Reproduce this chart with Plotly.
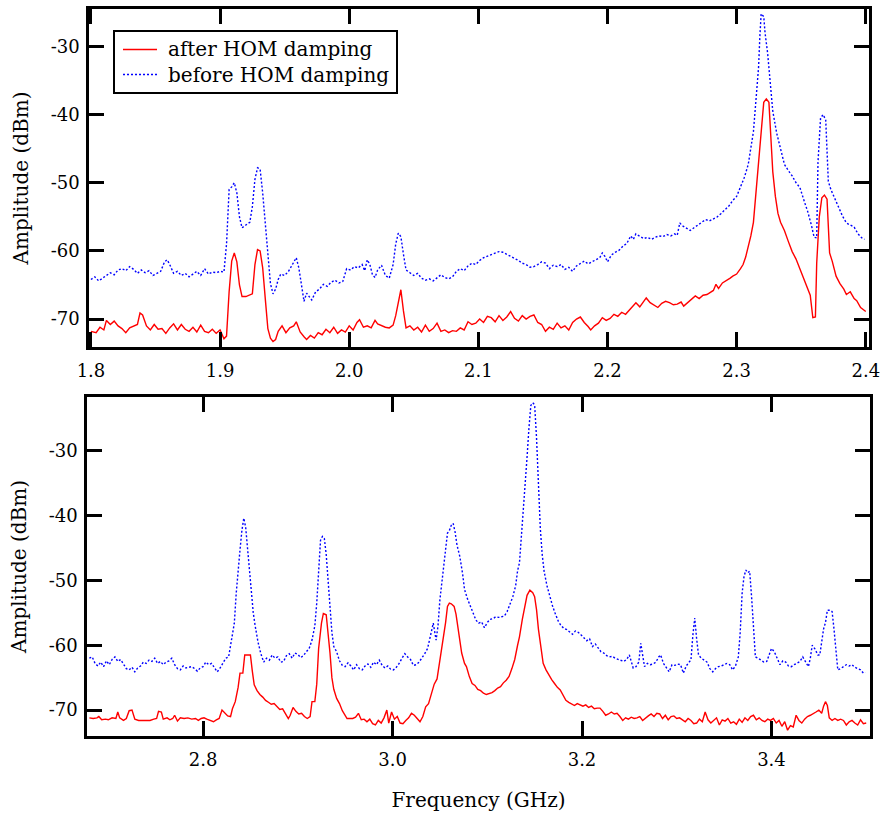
import plotly.graph_objects as go

# Measured transmission spectra (frequency in GHz, amplitude in dBm)
# Upper band, after HOM damping
top_after = [
    (1.800, -71.8), (1.804, -72.0), (1.807, -71.2), (1.810, -71.6), (1.812, -70.2),
    (1.815, -70.8), (1.818, -70.3), (1.821, -71.0), (1.824, -71.4), (1.827, -72.0),
    (1.830, -71.3), (1.833, -71.0), (1.836, -70.8), (1.838, -69.1), (1.840, -69.4),
    (1.843, -71.0), (1.846, -71.6), (1.849, -70.8), (1.852, -71.5), (1.855, -71.4),
    (1.858, -72.1), (1.861, -71.3), (1.864, -70.7), (1.867, -71.6), (1.870, -70.8),
    (1.873, -71.5), (1.876, -71.8), (1.879, -71.2), (1.882, -71.9), (1.885, -70.9),
    (1.888, -71.8), (1.891, -72.0), (1.894, -71.5), (1.897, -72.1), (1.900, -71.6),
    (1.903, -72.9), (1.905, -72.5), (1.907, -66.0), (1.909, -61.5), (1.911, -60.3),
    (1.913, -61.6), (1.915, -65.0), (1.917, -66.7), (1.920, -66.7), (1.923, -66.5),
    (1.925, -66.3), (1.927, -62.0), (1.929, -59.8), (1.931, -60.0), (1.933, -62.5),
    (1.935, -67.0), (1.937, -71.4), (1.939, -72.8), (1.941, -73.3), (1.943, -73.0),
    (1.945, -71.8), (1.948, -71.0), (1.951, -72.0), (1.954, -71.3), (1.957, -71.0),
    (1.959, -70.4), (1.962, -71.9), (1.965, -72.6), (1.967, -73.0), (1.970, -72.4),
    (1.973, -72.8), (1.976, -72.0), (1.979, -72.3), (1.982, -71.5), (1.985, -72.0),
    (1.988, -71.2), (1.991, -72.1), (1.994, -71.6), (1.997, -71.9), (2.000, -71.0),
    (2.003, -71.6), (2.006, -70.5), (2.008, -70.1), (2.011, -71.2), (2.014, -71.0),
    (2.017, -71.3), (2.020, -70.2), (2.022, -70.7), (2.025, -71.0), (2.028, -71.2),
    (2.031, -71.3), (2.034, -70.9), (2.036, -69.5), (2.038, -67.5), (2.040, -65.7),
    (2.042, -68.8), (2.044, -71.3), (2.047, -71.0), (2.050, -71.6), (2.053, -71.2),
    (2.056, -71.9), (2.059, -70.9), (2.062, -71.8), (2.065, -71.4), (2.068, -70.6),
    (2.071, -71.8), (2.074, -71.6), (2.077, -72.0), (2.080, -71.7), (2.083, -71.8),
    (2.086, -71.3), (2.089, -71.6), (2.092, -70.4), (2.095, -70.8), (2.098, -70.6),
    (2.101, -70.0), (2.104, -70.5), (2.107, -69.6), (2.110, -69.8), (2.113, -70.4),
    (2.116, -69.5), (2.119, -70.2), (2.122, -69.7), (2.125, -68.9), (2.128, -69.9),
    (2.131, -70.3), (2.134, -69.5), (2.137, -70.0), (2.140, -69.6), (2.143, -69.4),
    (2.146, -70.5), (2.149, -70.8), (2.152, -71.8), (2.155, -71.2), (2.158, -71.5),
    (2.161, -70.6), (2.164, -71.3), (2.167, -71.0), (2.170, -71.6), (2.173, -70.5),
    (2.176, -70.0), (2.179, -69.7), (2.182, -70.5), (2.185, -71.1), (2.187, -71.6),
    (2.190, -71.0), (2.193, -70.6), (2.196, -69.8), (2.199, -70.2), (2.202, -69.9),
    (2.205, -69.3), (2.208, -69.6), (2.211, -69.0), (2.214, -69.3), (2.217, -68.6),
    (2.220, -68.0), (2.222, -67.6), (2.225, -68.2), (2.228, -67.3), (2.230, -66.9),
    (2.233, -67.6), (2.236, -68.0), (2.239, -68.3), (2.242, -67.7), (2.245, -67.4),
    (2.248, -67.6), (2.251, -67.9), (2.254, -67.8), (2.257, -67.5), (2.259, -68.1),
    (2.262, -67.6), (2.265, -67.0), (2.268, -66.6), (2.271, -67.0), (2.274, -66.5),
    (2.277, -66.4), (2.280, -66.1), (2.282, -65.8), (2.284, -64.9), (2.286, -65.5),
    (2.289, -64.7), (2.292, -64.4), (2.295, -64.0), (2.297, -63.7), (2.300, -63.4),
    (2.303, -62.6), (2.305, -62.0), (2.307, -60.9), (2.309, -59.5), (2.311, -57.8),
    (2.313, -55.8), (2.315, -51.5), (2.317, -47.0), (2.319, -42.0), (2.321, -38.2),
    (2.323, -37.7), (2.325, -38.2), (2.327, -45.0), (2.328, -48.4), (2.330, -52.0),
    (2.332, -54.5), (2.334, -55.8), (2.337, -57.0), (2.340, -58.6), (2.343, -60.1),
    (2.346, -61.2), (2.349, -62.7), (2.352, -64.0), (2.355, -65.5), (2.357, -66.5),
    (2.359, -69.8), (2.361, -69.7), (2.362, -61.8), (2.364, -55.0), (2.366, -52.2),
    (2.368, -51.8), (2.370, -52.4), (2.371, -56.0), (2.372, -60.3), (2.374, -61.5),
    (2.377, -63.7), (2.380, -64.8), (2.383, -65.6), (2.385, -66.4), (2.388, -66.0),
    (2.391, -67.0), (2.393, -67.3), (2.396, -68.3), (2.399, -68.8), (2.400, -68.9),
]

# Upper band, before HOM damping
top_before = [
    (1.800, -64.2), (1.803, -63.8), (1.806, -64.4), (1.809, -64.0), (1.812, -63.6),
    (1.815, -63.2), (1.818, -63.5), (1.821, -62.8), (1.824, -62.6), (1.827, -62.9),
    (1.830, -62.3), (1.833, -62.7), (1.836, -63.3), (1.839, -62.8), (1.842, -63.2),
    (1.845, -62.9), (1.848, -63.6), (1.851, -63.3), (1.854, -63.0), (1.857, -61.6),
    (1.859, -61.3), (1.861, -62.0), (1.864, -63.3), (1.867, -63.0), (1.870, -63.6),
    (1.873, -63.3), (1.876, -63.8), (1.879, -63.4), (1.882, -63.0), (1.885, -63.6),
    (1.888, -62.6), (1.891, -63.4), (1.894, -63.1), (1.897, -63.2), (1.900, -63.0),
    (1.903, -63.1), (1.905, -59.0), (1.907, -51.0), (1.909, -50.6), (1.911, -50.0),
    (1.913, -51.5), (1.915, -55.0), (1.917, -56.6), (1.920, -56.2), (1.923, -55.8),
    (1.925, -53.5), (1.927, -49.5), (1.929, -47.8), (1.931, -48.0), (1.933, -51.5),
    (1.935, -55.8), (1.937, -60.5), (1.939, -64.8), (1.941, -66.3), (1.943, -65.6),
    (1.945, -64.2), (1.947, -63.4), (1.950, -63.6), (1.953, -63.0), (1.956, -62.0),
    (1.959, -61.0), (1.961, -62.5), (1.963, -65.0), (1.965, -67.4), (1.967, -66.2),
    (1.969, -66.8), (1.971, -67.2), (1.974, -66.0), (1.977, -65.6), (1.980, -64.9),
    (1.983, -65.2), (1.986, -64.6), (1.989, -64.3), (1.992, -64.7), (1.995, -64.5),
    (1.998, -62.6), (2.001, -62.8), (2.004, -62.3), (2.007, -62.5), (2.010, -62.0),
    (2.012, -62.9), (2.014, -61.3), (2.016, -62.0), (2.018, -63.5), (2.020, -63.9),
    (2.022, -62.8), (2.025, -62.1), (2.028, -63.6), (2.031, -64.0), (2.034, -62.0),
    (2.036, -59.0), (2.038, -57.4), (2.040, -57.9), (2.042, -60.5), (2.044, -62.8),
    (2.047, -63.2), (2.050, -63.6), (2.053, -63.3), (2.056, -64.0), (2.059, -64.3),
    (2.062, -64.1), (2.065, -64.4), (2.068, -64.0), (2.071, -63.5), (2.074, -63.9),
    (2.077, -64.1), (2.080, -63.8), (2.083, -63.0), (2.086, -62.6), (2.089, -62.9),
    (2.092, -62.2), (2.095, -61.8), (2.098, -62.0), (2.101, -61.4), (2.104, -61.0),
    (2.107, -60.8), (2.110, -60.6), (2.113, -60.3), (2.116, -60.1), (2.119, -60.2),
    (2.122, -60.5), (2.125, -60.7), (2.128, -61.0), (2.131, -61.4), (2.134, -61.8),
    (2.137, -62.0), (2.140, -62.4), (2.143, -62.3), (2.146, -62.0), (2.149, -61.6),
    (2.152, -61.8), (2.155, -62.6), (2.158, -62.1), (2.161, -62.3), (2.164, -62.0),
    (2.167, -62.7), (2.170, -62.4), (2.173, -63.0), (2.176, -62.2), (2.179, -61.8),
    (2.182, -61.5), (2.185, -61.9), (2.188, -61.6), (2.191, -61.3), (2.194, -61.0),
    (2.196, -60.3), (2.198, -60.8), (2.200, -61.6), (2.203, -60.6), (2.206, -60.2),
    (2.209, -59.9), (2.212, -59.3), (2.215, -58.9), (2.218, -57.8), (2.220, -58.3),
    (2.222, -57.5), (2.225, -57.9), (2.228, -58.2), (2.231, -58.0), (2.234, -58.3),
    (2.237, -58.0), (2.240, -57.8), (2.243, -57.9), (2.246, -57.6), (2.249, -57.8),
    (2.252, -57.5), (2.254, -57.7), (2.256, -55.9), (2.258, -56.3), (2.261, -56.6),
    (2.264, -57.0), (2.267, -56.6), (2.270, -56.2), (2.273, -55.7), (2.276, -55.4),
    (2.279, -55.6), (2.282, -55.3), (2.285, -55.0), (2.288, -54.5), (2.291, -53.9),
    (2.294, -53.4), (2.297, -52.6), (2.300, -52.0), (2.303, -50.6), (2.306, -49.2),
    (2.309, -47.3), (2.311, -45.1), (2.313, -42.5), (2.315, -37.8), (2.317, -33.0),
    (2.318, -28.5), (2.319, -25.2), (2.321, -25.6), (2.322, -28.0), (2.324, -31.0),
    (2.326, -35.0), (2.328, -39.5), (2.331, -42.7), (2.334, -45.2), (2.337, -47.3),
    (2.340, -48.2), (2.343, -49.0), (2.346, -50.0), (2.349, -50.7), (2.352, -52.5),
    (2.355, -54.2), (2.358, -56.3), (2.360, -58.0), (2.362, -58.1), (2.363, -47.0),
    (2.365, -40.5), (2.367, -40.0), (2.369, -40.8), (2.370, -45.0), (2.371, -49.8),
    (2.373, -51.0), (2.376, -52.3), (2.379, -53.6), (2.382, -54.9), (2.385, -55.9),
    (2.388, -56.2), (2.391, -56.5), (2.394, -57.5), (2.397, -58.1), (2.399, -58.3),
]

# Lower band, after HOM damping
bottom_after = [
    (2.680, -71.2), (2.684, -71.3), (2.688, -71.2), (2.690, -71.0), (2.693, -71.5),
    (2.697, -71.4), (2.700, -71.5), (2.704, -71.2), (2.708, -71.3), (2.710, -70.3),
    (2.712, -71.2), (2.716, -71.6), (2.719, -71.3), (2.722, -70.1), (2.725, -70.0),
    (2.728, -71.4), (2.732, -71.6), (2.736, -71.6), (2.740, -71.5), (2.744, -71.6),
    (2.748, -71.4), (2.751, -71.3), (2.753, -70.2), (2.756, -70.3), (2.758, -71.4),
    (2.762, -71.2), (2.765, -71.5), (2.768, -71.3), (2.770, -70.8), (2.773, -71.7),
    (2.776, -71.2), (2.780, -71.3), (2.784, -71.2), (2.788, -71.4), (2.792, -71.3),
    (2.795, -71.6), (2.798, -71.3), (2.801, -71.2), (2.804, -71.4), (2.808, -71.7),
    (2.811, -71.8), (2.814, -71.5), (2.817, -71.3), (2.820, -70.0), (2.823, -70.4),
    (2.826, -70.9), (2.829, -71.0), (2.831, -69.8), (2.834, -68.7), (2.837, -66.5),
    (2.839, -64.3), (2.842, -64.3), (2.844, -61.5), (2.847, -61.5), (2.850, -61.5),
    (2.852, -64.0), (2.854, -66.1), (2.857, -67.0), (2.860, -67.6), (2.863, -68.0),
    (2.866, -68.5), (2.869, -68.8), (2.872, -69.1), (2.875, -69.0), (2.878, -69.5),
    (2.881, -69.9), (2.884, -69.8), (2.887, -70.6), (2.890, -71.3), (2.892, -70.8),
    (2.895, -69.6), (2.898, -70.2), (2.901, -70.6), (2.904, -70.5), (2.907, -71.0),
    (2.910, -71.3), (2.913, -71.0), (2.915, -68.7), (2.918, -68.7), (2.920, -66.0),
    (2.922, -60.5), (2.925, -56.6), (2.927, -55.1), (2.930, -55.3), (2.932, -58.0),
    (2.934, -61.2), (2.936, -65.0), (2.938, -66.8), (2.941, -68.2), (2.944, -69.0),
    (2.947, -70.1), (2.950, -70.9), (2.952, -71.3), (2.955, -71.3), (2.958, -71.3),
    (2.961, -71.1), (2.964, -70.5), (2.967, -71.5), (2.970, -71.4), (2.973, -71.8),
    (2.976, -71.4), (2.979, -72.1), (2.982, -72.3), (2.985, -71.6), (2.988, -72.0),
    (2.991, -71.2), (2.994, -70.0), (2.996, -72.0), (2.999, -70.3), (3.002, -71.4),
    (3.005, -71.0), (3.008, -72.0), (3.011, -72.1), (3.014, -71.6), (3.017, -71.2),
    (3.020, -70.5), (3.023, -70.8), (3.026, -71.3), (3.029, -71.8), (3.032, -71.0),
    (3.035, -69.5), (3.038, -69.0), (3.041, -67.3), (3.044, -66.0), (3.047, -65.2),
    (3.050, -62.5), (3.053, -59.2), (3.056, -56.5), (3.058, -54.0), (3.060, -53.5),
    (3.062, -53.6), (3.065, -54.0), (3.067, -55.2), (3.069, -57.1), (3.071, -59.5),
    (3.073, -61.2), (3.076, -62.8), (3.078, -63.3), (3.081, -64.8), (3.084, -65.9),
    (3.087, -66.2), (3.090, -66.8), (3.093, -67.0), (3.096, -67.4), (3.099, -67.6),
    (3.102, -67.5), (3.105, -67.3), (3.108, -67.0), (3.111, -66.6), (3.114, -66.4),
    (3.117, -65.8), (3.120, -65.4), (3.123, -64.8), (3.126, -63.6), (3.129, -62.2),
    (3.132, -60.0), (3.134, -58.7), (3.137, -56.0), (3.140, -53.5), (3.142, -52.3),
    (3.145, -51.5), (3.148, -51.9), (3.150, -52.5), (3.152, -54.5), (3.154, -57.5),
    (3.157, -60.5), (3.159, -62.8), (3.162, -63.8), (3.165, -64.6), (3.168, -65.3),
    (3.171, -65.9), (3.174, -66.5), (3.177, -66.9), (3.180, -67.6), (3.183, -68.5),
    (3.186, -68.8), (3.189, -69.0), (3.192, -69.3), (3.195, -69.0), (3.198, -69.2),
    (3.201, -69.4), (3.204, -69.2), (3.207, -69.6), (3.210, -69.4), (3.213, -69.8),
    (3.216, -69.7), (3.219, -69.7), (3.222, -70.2), (3.225, -70.8), (3.228, -70.6),
    (3.231, -70.3), (3.234, -70.6), (3.237, -70.5), (3.240, -71.0), (3.243, -71.6),
    (3.246, -71.2), (3.249, -71.4), (3.252, -71.1), (3.255, -71.3), (3.258, -71.2),
    (3.261, -71.0), (3.264, -71.6), (3.267, -71.2), (3.270, -70.9), (3.273, -70.6),
    (3.276, -71.0), (3.279, -70.5), (3.282, -70.6), (3.285, -71.3), (3.288, -70.8),
    (3.291, -71.5), (3.294, -71.0), (3.297, -70.9), (3.300, -71.3), (3.303, -71.2),
    (3.306, -71.5), (3.309, -71.8), (3.312, -71.3), (3.315, -71.6), (3.318, -72.1),
    (3.321, -72.0), (3.324, -71.4), (3.327, -71.8), (3.330, -70.3), (3.333, -71.5),
    (3.336, -72.0), (3.339, -71.6), (3.342, -71.2), (3.345, -72.3), (3.348, -71.5),
    (3.351, -71.7), (3.354, -71.3), (3.357, -72.0), (3.360, -71.8), (3.363, -72.2),
    (3.366, -71.4), (3.369, -71.9), (3.372, -71.2), (3.375, -71.6), (3.378, -71.0),
    (3.381, -70.8), (3.384, -71.5), (3.387, -71.2), (3.390, -71.6), (3.393, -71.8),
    (3.396, -71.4), (3.399, -71.6), (3.402, -71.3), (3.405, -72.0), (3.408, -71.6),
    (3.411, -72.5), (3.414, -71.8), (3.417, -73.1), (3.420, -72.4), (3.423, -72.6),
    (3.426, -70.8), (3.429, -71.6), (3.432, -72.0), (3.435, -71.4), (3.438, -71.0),
    (3.441, -70.8), (3.444, -70.6), (3.447, -70.3), (3.450, -70.0), (3.453, -70.5),
    (3.455, -69.4), (3.457, -68.7), (3.459, -69.3), (3.461, -71.2), (3.464, -71.6),
    (3.467, -71.3), (3.470, -71.6), (3.473, -71.4), (3.476, -71.6), (3.479, -72.3),
    (3.482, -71.8), (3.485, -71.6), (3.488, -72.0), (3.491, -72.3), (3.494, -71.5),
    (3.497, -72.1), (3.500, -72.0),
]

# Lower band, before HOM damping
bottom_before = [
    (2.680, -62.0), (2.683, -61.8), (2.686, -62.8), (2.689, -63.2), (2.692, -62.6),
    (2.695, -63.3), (2.698, -62.4), (2.701, -63.0), (2.704, -62.2), (2.707, -61.8),
    (2.710, -62.5), (2.713, -62.2), (2.716, -62.9), (2.719, -63.6), (2.722, -63.8),
    (2.725, -63.4), (2.728, -64.1), (2.731, -63.5), (2.734, -63.2), (2.737, -62.6),
    (2.740, -62.8), (2.743, -62.3), (2.746, -62.5), (2.749, -62.0), (2.752, -62.8),
    (2.755, -62.5), (2.758, -63.0), (2.761, -62.6), (2.764, -62.4), (2.767, -62.0),
    (2.770, -63.0), (2.773, -63.6), (2.776, -63.8), (2.779, -63.2), (2.782, -63.5),
    (2.785, -63.4), (2.788, -63.3), (2.791, -63.6), (2.794, -64.0), (2.797, -63.5),
    (2.800, -63.3), (2.803, -62.6), (2.806, -63.0), (2.809, -62.8), (2.812, -63.4),
    (2.815, -64.1), (2.818, -63.5), (2.821, -62.8), (2.824, -62.0), (2.827, -61.8),
    (2.830, -59.5), (2.833, -56.6), (2.835, -52.0), (2.837, -48.0), (2.839, -45.3),
    (2.841, -42.3), (2.843, -40.4), (2.845, -41.8), (2.847, -45.3), (2.849, -48.5),
    (2.851, -52.0), (2.853, -55.0), (2.855, -57.0), (2.858, -59.5), (2.861, -61.3),
    (2.864, -62.6), (2.867, -62.0), (2.870, -62.3), (2.873, -61.5), (2.876, -62.0),
    (2.879, -61.8), (2.882, -62.6), (2.885, -62.5), (2.888, -61.6), (2.891, -61.3),
    (2.894, -62.0), (2.897, -61.2), (2.900, -61.4), (2.903, -61.9), (2.906, -61.6),
    (2.909, -61.0), (2.912, -60.5), (2.915, -59.2), (2.918, -57.0), (2.920, -53.5),
    (2.922, -48.0), (2.924, -43.8), (2.926, -43.2), (2.928, -43.5), (2.930, -46.0),
    (2.932, -50.4), (2.934, -54.5), (2.936, -58.0), (2.938, -60.2), (2.941, -61.0),
    (2.944, -62.4), (2.947, -63.1), (2.950, -63.3), (2.953, -62.7), (2.956, -63.2),
    (2.959, -63.8), (2.962, -63.0), (2.965, -63.6), (2.968, -63.8), (2.971, -63.2),
    (2.974, -62.9), (2.977, -63.4), (2.980, -62.6), (2.983, -63.0), (2.986, -62.3),
    (2.989, -63.1), (2.992, -63.5), (2.995, -63.2), (2.998, -63.7), (3.001, -63.8),
    (3.004, -63.4), (3.007, -62.8), (3.010, -62.0), (3.013, -61.3), (3.016, -61.8),
    (3.019, -62.2), (3.022, -63.1), (3.025, -63.0), (3.028, -62.6), (3.031, -62.0),
    (3.034, -61.3), (3.037, -60.5), (3.040, -58.5), (3.043, -56.6), (3.046, -59.2),
    (3.048, -57.0), (3.050, -53.0), (3.053, -49.4), (3.056, -45.5), (3.058, -42.7),
    (3.060, -42.3), (3.062, -41.5), (3.064, -41.2), (3.066, -42.5), (3.068, -44.5),
    (3.071, -46.3), (3.074, -49.0), (3.076, -51.4), (3.079, -52.8), (3.082, -54.0),
    (3.085, -55.0), (3.088, -56.1), (3.091, -56.6), (3.094, -56.4), (3.097, -57.3),
    (3.100, -56.5), (3.103, -56.0), (3.106, -55.9), (3.109, -55.6), (3.112, -55.7),
    (3.115, -55.6), (3.118, -55.5), (3.121, -54.8), (3.124, -53.6), (3.127, -52.5),
    (3.130, -50.8), (3.132, -48.5), (3.134, -47.3), (3.136, -43.5), (3.138, -39.5),
    (3.140, -35.5), (3.142, -31.0), (3.144, -26.5), (3.146, -23.0), (3.148, -22.6),
    (3.150, -22.9), (3.152, -28.0), (3.154, -36.0), (3.156, -42.0), (3.158, -46.0),
    (3.160, -48.6), (3.163, -50.8), (3.166, -52.6), (3.169, -54.0), (3.172, -55.2),
    (3.175, -56.3), (3.178, -57.0), (3.181, -57.4), (3.184, -57.6), (3.187, -57.9),
    (3.190, -58.3), (3.193, -57.8), (3.196, -58.0), (3.199, -58.4), (3.202, -58.8),
    (3.205, -59.3), (3.208, -59.0), (3.211, -60.2), (3.214, -59.8), (3.217, -60.5),
    (3.220, -61.0), (3.223, -61.2), (3.226, -61.6), (3.229, -61.8), (3.232, -61.7),
    (3.235, -62.0), (3.238, -62.2), (3.241, -62.4), (3.244, -62.5), (3.247, -62.2),
    (3.250, -61.5), (3.252, -62.5), (3.254, -63.5), (3.257, -63.3), (3.260, -62.6),
    (3.262, -59.7), (3.264, -61.5), (3.266, -63.3), (3.269, -62.8), (3.272, -63.0),
    (3.275, -62.9), (3.278, -62.6), (3.281, -61.8), (3.283, -61.5), (3.286, -62.8),
    (3.289, -63.5), (3.292, -64.1), (3.295, -63.0), (3.298, -63.1), (3.301, -62.9),
    (3.304, -63.0), (3.307, -64.3), (3.310, -63.2), (3.313, -62.6), (3.315, -62.3),
    (3.317, -58.5), (3.319, -55.8), (3.321, -59.0), (3.323, -61.5), (3.326, -62.0),
    (3.329, -62.3), (3.332, -62.6), (3.335, -63.6), (3.338, -64.1), (3.341, -63.6),
    (3.344, -63.3), (3.347, -63.2), (3.350, -63.0), (3.353, -62.8), (3.356, -63.0),
    (3.359, -63.8), (3.362, -63.2), (3.365, -61.8), (3.367, -58.0), (3.369, -52.0),
    (3.371, -49.4), (3.373, -48.4), (3.375, -48.8), (3.377, -48.6), (3.379, -52.5),
    (3.381, -58.0), (3.383, -61.8), (3.386, -62.0), (3.389, -62.3), (3.392, -62.6),
    (3.395, -62.5), (3.398, -61.2), (3.400, -60.5), (3.403, -61.0), (3.406, -62.0),
    (3.409, -63.0), (3.412, -62.4), (3.415, -62.6), (3.418, -63.2), (3.421, -63.3),
    (3.424, -63.0), (3.427, -62.8), (3.430, -62.5), (3.433, -61.8), (3.436, -62.6),
    (3.439, -63.3), (3.441, -62.0), (3.443, -60.0), (3.446, -60.6), (3.449, -61.5),
    (3.451, -61.5), (3.453, -59.5), (3.455, -57.5), (3.457, -56.5), (3.459, -54.6),
    (3.462, -54.6), (3.464, -54.8), (3.466, -57.5), (3.468, -60.5), (3.470, -63.8),
    (3.473, -63.6), (3.476, -63.3), (3.479, -63.0), (3.482, -63.2), (3.485, -63.0),
    (3.488, -63.4), (3.491, -63.6), (3.494, -63.8), (3.497, -64.3), (3.499, -64.2),
]

series_names = ["after HOM damping", "before HOM damping"]

top_xticks = [1.8, 1.9, 2.0, 2.1, 2.2, 2.3, 2.4]
bottom_xticks = [2.8, 3.0, 3.2, 3.4]
y_ticks = [-70, -60, -50, -40, -30]
y_ticklabels = ["-70", "-60", "-50", "-40", "-30"]

FONT = "DejaVu Serif"
W, H = 882, 821


def unzip(pairs):
    return [p[0] for p in pairs], [p[1] for p in pairs]


red_line = dict(color="#ff0000", width=1.4)
blue_line = dict(color="#0000ff", width=1.4, dash="2px,2px")
series_lines = [red_line, blue_line]

fig = go.Figure()

for pairs, name, line, axes in [
    (top_after, series_names[0], red_line, ("x", "y")),
    (top_before, series_names[1], blue_line, ("x", "y")),
    (bottom_after, series_names[0], red_line, ("x2", "y2")),
    (bottom_before, series_names[1], blue_line, ("x2", "y2")),
]:
    fx, amp = unzip(pairs)
    fig.add_trace(go.Scatter(
        x=fx, y=amp, mode="lines", name=name, line=line,
        xaxis=axes[0], yaxis=axes[1], showlegend=False,
    ))

axis_common = dict(
    showline=True, linecolor="black", linewidth=2.5, mirror="ticks",
    ticks="inside", ticklen=15, tickwidth=2.5, tickcolor="black",
    showgrid=False, zeroline=False, automargin=False,
    tickfont=dict(family=FONT, size=18, color="black"),
)
title_font = dict(family=FONT, size=20, color="black")

# Framed key in the upper panel (paper pixel layout)
key_box = (114, 31, 397, 93)       # left, top, right, bottom
key_rows = [49.5, 74.5]            # row centres
key_sample = (123, 157)            # sample line extent
key_text_x = 166

shapes = [dict(
    type="rect", xref="paper", yref="paper",
    x0=key_box[0] / W, x1=key_box[2] / W,
    y0=1 - key_box[3] / H, y1=1 - key_box[1] / H,
    line=dict(color="black", width=2), fillcolor="white", layer="above",
)]
annotations = []
for row_y, name, line in zip(key_rows, series_names, series_lines):
    shapes.append(dict(
        type="line", xref="paper", yref="paper",
        x0=key_sample[0] / W, x1=key_sample[1] / W,
        y0=1 - row_y / H, y1=1 - row_y / H,
        line=line, layer="above",
    ))
    annotations.append(dict(
        text=name, xref="paper", yref="paper",
        x=key_text_x / W, y=1 - row_y / H, xanchor="left", yanchor="middle",
        showarrow=False, font=dict(family=FONT, size=20, color="black"),
    ))

fig.update_layout(
    width=W, height=H,
    margin=dict(l=0, r=0, t=0, b=0),
    paper_bgcolor="white", plot_bgcolor="white",
    font=dict(family=FONT, color="black"),
    showlegend=False,
    shapes=shapes, annotations=annotations,
    xaxis=dict(
        **axis_common, anchor="y",
        domain=[89 / W, 869 / W], range=[1.7985, 2.4025],
        tickvals=top_xticks, tickformat=".1f", ticklabelstandoff=6,
    ),
    yaxis=dict(
        **axis_common, anchor="x",
        domain=[1 - 347 / H, 1 - 9 / H], range=[-74.1, -24.5],
        tickvals=y_ticks, ticktext=y_ticklabels, ticklabelstandoff=3,
        title=dict(text="Amplitude (dBm)", font=title_font, standoff=17),
    ),
    xaxis2=dict(
        **axis_common, anchor="y2",
        domain=[87 / W, 870 / W], range=[2.6775, 3.504],
        tickvals=bottom_xticks, tickformat=".1f", ticklabelstandoff=6,
        title=dict(text="Frequency (GHz)", font=title_font, standoff=24),
    ),
    yaxis2=dict(
        **axis_common, anchor="x2",
        domain=[1 - 736 / H, 1 - 397 / H], range=[-74.0, -21.7],
        tickvals=y_ticks, ticktext=y_ticklabels, ticklabelstandoff=3,
        title=dict(text="Amplitude (dBm)", font=title_font, standoff=17),
    ),
)

fig.write_html("out.html")
